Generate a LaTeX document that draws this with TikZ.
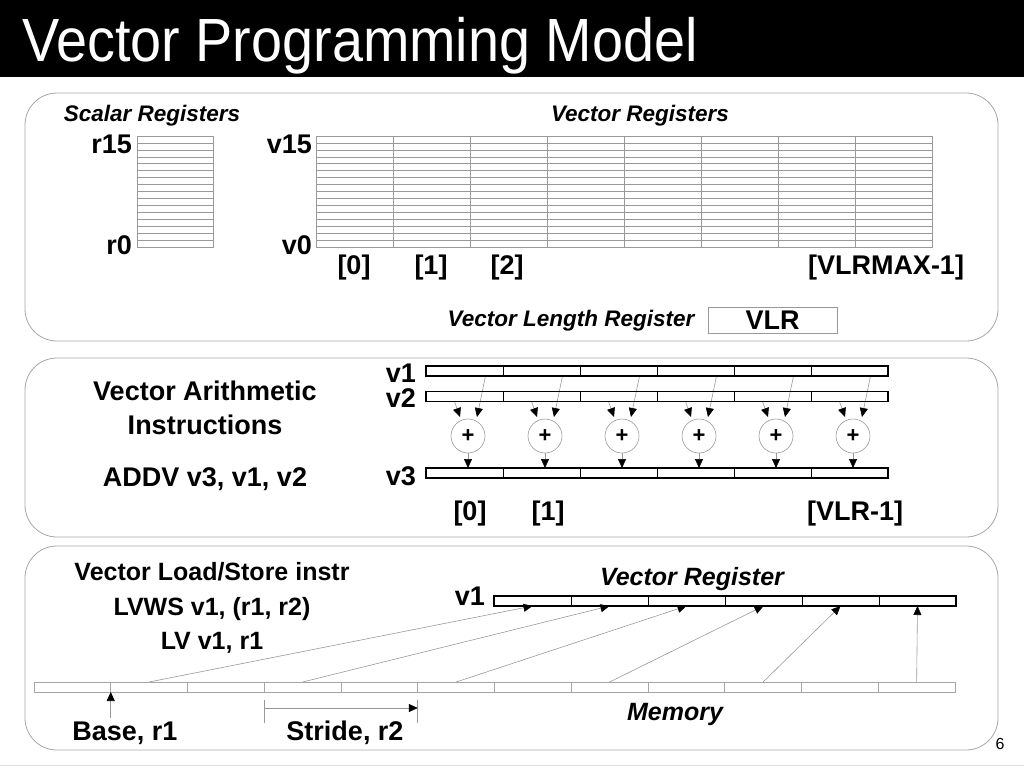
\documentclass[tikz,border=0pt]{standalone}
\usepackage{fontspec}
\setmainfont{Liberation Sans}
\usetikzlibrary{positioning,arrows.meta,calc}

\tikzset{
  lbl/.style={font=\fontsize{27}{30}\selectfont\bfseries, inner sep=0pt},
  sublbl/.style={font=\fontsize{25}{28}\selectfont\bfseries, inner sep=0pt},
  ilbl/.style={font=\fontsize{22.5}{26}\selectfont\bfseries\itshape, inner sep=0pt},
  panel/.style={draw=gray!70, rounded corners=32pt, line width=0.8pt},
  grid/.style={draw=gray!80, line width=0.6pt},
  cell/.style={draw, minimum width=77pt, minimum height=10pt, inner sep=0pt, outer sep=0pt, line width=0.6pt},
  memcell/.style={cell, draw=gray!70, minimum width=76.75pt},
  plus/.style={draw=gray!80, circle, minimum size=34pt, inner sep=0pt, line width=0.6pt, font=\fontsize{22}{22}\selectfont\bfseries},
  arr/.style={draw=gray!80, line width=0.6pt, -{Triangle[length=9pt,width=8pt,color=black]}},
}

\begin{document}
\begin{tikzpicture}[x=1pt,y=-1pt]
\useasboundingbox (0,0) rectangle (1024,768);
% title bar
\fill[black] (0,0) rectangle (1024,77);
\node[anchor=base west, text=white, inner sep=0pt, font=\fontsize{61}{64}\selectfont] (title) at (22,62) {\scalebox{0.914}[1]{Vector Programming Model}};
\draw[gray!25] (0,765) -- (1024,765);
\node[anchor=base, inner sep=0pt, font=\fontsize{16}{18}\selectfont] (page) at (1000,749) {6};

% three panels
\draw[panel] (25,93) rectangle (998,341);
\draw[panel] (25,358) rectangle (998,537);
\draw[panel] (25,546) rectangle (998,750);

% scalar registers
\node[ilbl, anchor=base] (sregs) at (152,121) {Scalar Registers};
\draw[grid] (137,136) rectangle (213,247);
\foreach \i in {1,...,15}
  \draw[grid] (137,{136+\i*6.9375}) -- (213,{136+\i*6.9375});
\node[lbl, anchor=base east] (r15) at (132,153) {r15};
\node[lbl, anchor=base east] (r0) at (132,254) {r0};

% vector registers
\node[ilbl, anchor=base] (vregs) at (640,121) {Vector Registers};
\draw[grid] (316,136) rectangle (932,247);
\foreach \i in {1,...,15}
  \draw[grid] (316,{136+\i*6.9375}) -- (932,{136+\i*6.9375});
\foreach \j in {1,...,7}
  \draw[grid] ({316+\j*77},136) -- ({316+\j*77},247);
\node[lbl, anchor=base east] (v15) at (312,153) {v15};
\node[lbl, anchor=base east] (v0) at (312,254) {v0};
\node[lbl, anchor=base] (el0) at (354,274) {[0]};
\node[lbl, anchor=base] (el1) at (431,274) {[1]};
\node[lbl, anchor=base] (el2) at (507,274) {[2]};
\node[lbl, anchor=base] (elmax) at (886,274) {[VLRMAX-1]};
\node[ilbl, anchor=base] (vlrname) at (571,326) {Vector Length Register};
\node[draw=gray!80, line width=0.6pt, minimum width=129pt, minimum height=26pt, inner sep=0pt, font=\fontsize{27}{30}\selectfont\bfseries] (vlr) at (772.5,320) {VLR};

% vector arithmetic
\node[lbl, anchor=base] (arith) at (205,400) {Vector Arithmetic};
\node[lbl, anchor=base] (instr) at (205,434) {Instructions};
\node[lbl, anchor=base] (addv) at (205,486) {ADDV v3, v1, v2};
\node[lbl, anchor=base east] (av1) at (416,382) {v1};
\node[lbl, anchor=base east] (av2) at (416,407) {v2};
\node[lbl, anchor=base east] (av3) at (416,485) {v3};
\foreach \i in {1,...,6} {
  \node[cell] (a\i) at ({464.5+(\i-1)*77},371) {};
  \node[cell] (b\i) at ({464.5+(\i-1)*77},396.5) {};
  \node[cell] (c\i) at ({464.5+(\i-1)*77},473) {};
  \node[plus] (p\i) at ({468+(\i-1)*77},436) {+};
  \draw[arr] ($(a\i.south)+(21,0)$) -- ($(p\i.center)+(9,-19)$);
  \draw[arr] ($(b\i.south)+(-10,0)$) -- ($(p\i.center)+(-8,-19)$);
  \draw[arr] (p\i.south) -- (p\i.south |- c\i.north);
}
\draw[line width=1.6pt] (a1.north west) rectangle (a6.south east);
\draw[line width=1.6pt] (b1.north west) rectangle (b6.south east);
\draw[line width=1.6pt] (c1.north west) rectangle (c6.south east);
\node[lbl, anchor=base] (ix0) at (470,520) {[0]};
\node[lbl, anchor=base] (ix1) at (548,520) {[1]};
\node[lbl, anchor=base] (ixl) at (855,520) {[VLR-1]};

% vector load/store
\node[sublbl, anchor=base] (ldst) at (212,580) {Vector Load/Store instr};
\node[sublbl, anchor=base] (lvws) at (212,615) {LVWS v1, (r1, r2)};
\node[sublbl, anchor=base] (lv) at (212,649) {LV v1, r1};
\node[ilbl, anchor=base, font=\fontsize{25}{28}\selectfont\bfseries\itshape] (vregname) at (692,585) {Vector Register};
\node[lbl, anchor=base east] (lv1) at (485,605) {v1};
\foreach \i in {1,...,6}
  \node[cell] (r\i) at ({532.5+(\i-1)*77},601) {};
\draw[line width=1.6pt] (r1.north west) rectangle (r6.south east);
\foreach \i in {1,...,12}
  \node[memcell] (m\i) at ({34+76.75*(\i-0.5)},687) {};
\foreach \i in {1,...,6} {
  \pgfmathtruncatemacro\k{2*\i}
  \draw[arr] (m\k.north) -- (r\i.south);
}
\node[ilbl, anchor=base, font=\fontsize{25}{28}\selectfont\bfseries\itshape] (mem) at (675,720) {Memory};

% base and stride
\coordinate (base) at ($(m1.south east)+(0,26)$);
\draw[arr] (base) -- (m1.south east);
\node[lbl, anchor=base] (basetxt) at (125,740) {Base, r1};
\draw[grid] ($(m3.south east)+(0,8)$) -- ++(0,23);
\draw[grid] ($(m5.south east)+(0,8)$) -- ++(0,23);
\coordinate (s0) at ($(m3.south east)+(0,16)$);
\coordinate (s1) at ($(m5.south east)+(0,16)$);
\draw[arr] (s0) -- (s1);
\node[lbl, anchor=base] (stridetxt) at (345,740) {Stride, r2};
\end{tikzpicture}
\end{document}
